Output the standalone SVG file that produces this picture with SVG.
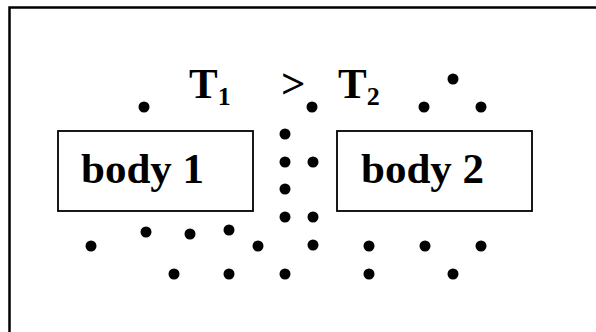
<svg xmlns="http://www.w3.org/2000/svg" width="596" height="332" viewBox="0 0 596 332">
<style>
.frame{fill:none;stroke:#000;stroke-width:2.5}
.box{fill:#fff;stroke:#000;stroke-width:1.8}
.lbl{font-family:"Liberation Serif","Times New Roman",serif;font-weight:bold;fill:#000}
.dot{fill:#000}
</style>
<rect width="596" height="332" fill="#fff"/>
<path class="frame" d="M9.5,332 V7.5 H596"/>
<g id="body1">
<rect class="box" x="58" y="131" width="195" height="80"/>
<text class="lbl" x="81" y="183" font-size="43">body 1</text>
</g>
<g id="body2">
<rect class="box" x="337" y="131" width="195" height="80"/>
<text class="lbl" x="361" y="183" font-size="43">body 2</text>
</g>
<g id="labels">
<text class="lbl" x="189" y="98" font-size="43">T<tspan font-size="26" dy="7">1</tspan></text>
<text class="lbl" x="281" y="98" font-size="43">&gt;</text>
<text class="lbl" x="338" y="98" font-size="43">T<tspan font-size="26" dy="7">2</tspan></text>
</g>
<g id="particles">
<circle class="dot" cx="144" cy="107" r="5.5"/>
<circle class="dot" cx="312" cy="107" r="5.5"/>
<circle class="dot" cx="424" cy="107" r="5.5"/>
<circle class="dot" cx="453" cy="79" r="5.5"/>
<circle class="dot" cx="481" cy="107" r="5.5"/>
<circle class="dot" cx="285" cy="134" r="5.5"/>
<circle class="dot" cx="285" cy="162" r="5.5"/>
<circle class="dot" cx="313" cy="162" r="5.5"/>
<circle class="dot" cx="285" cy="189" r="5.5"/>
<circle class="dot" cx="285" cy="217" r="5.5"/>
<circle class="dot" cx="313" cy="217" r="5.5"/>
<circle class="dot" cx="146" cy="232" r="5.5"/>
<circle class="dot" cx="190" cy="234" r="5.5"/>
<circle class="dot" cx="229" cy="230" r="5.5"/>
<circle class="dot" cx="91" cy="246" r="5.5"/>
<circle class="dot" cx="258" cy="246" r="5.5"/>
<circle class="dot" cx="313" cy="245" r="5.5"/>
<circle class="dot" cx="369" cy="246" r="5.5"/>
<circle class="dot" cx="425" cy="246" r="5.5"/>
<circle class="dot" cx="481" cy="246" r="5.5"/>
<circle class="dot" cx="174" cy="274" r="5.5"/>
<circle class="dot" cx="229" cy="274" r="5.5"/>
<circle class="dot" cx="285" cy="274" r="5.5"/>
<circle class="dot" cx="369" cy="274" r="5.5"/>
<circle class="dot" cx="453" cy="274" r="5.5"/>
</g>
</svg>
